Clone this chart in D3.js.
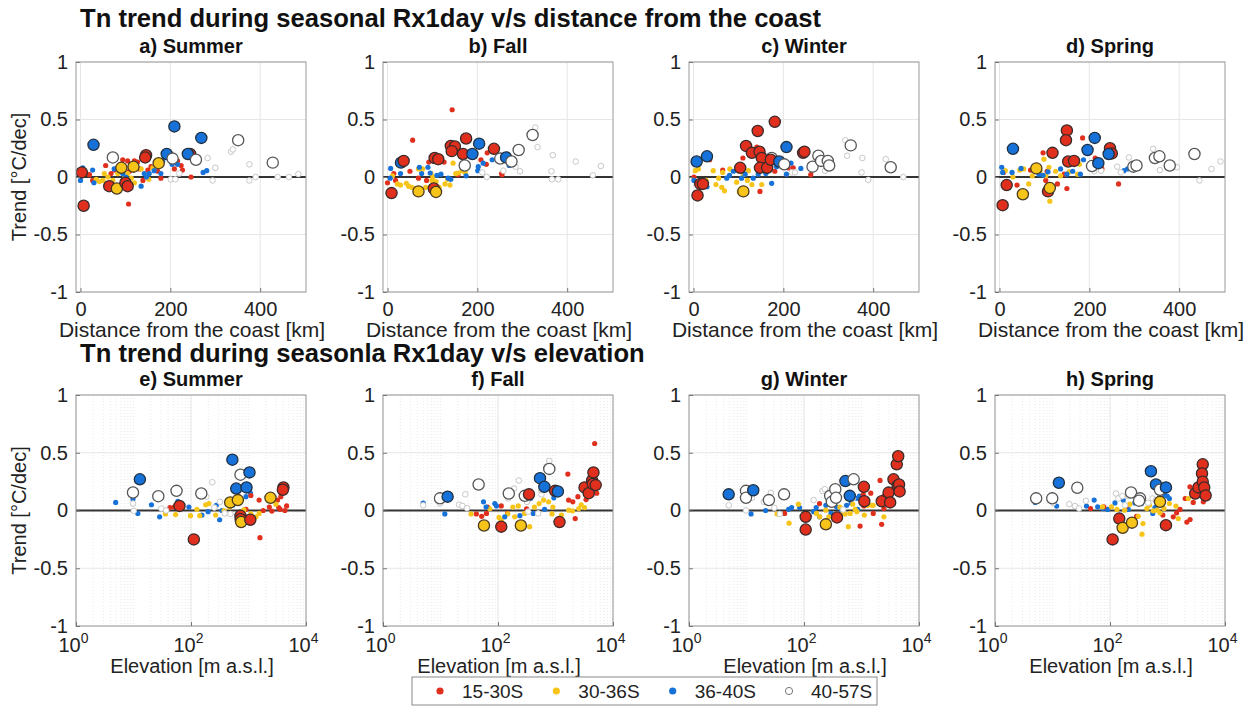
<!DOCTYPE html>
<html>
<head>
<meta charset="utf-8">
<script src="https://cdn.jsdelivr.net/npm/d3@7"></script>
<style>
  html, body { margin: 0; padding: 0; background: #fff; }
  svg { display: block; font-family: "Liberation Sans", Arial, sans-serif; }
</style>
</head>
<body>
<svg id="fig" width="1252" height="708"></svg>
<script>
// Latitude bands (colour groups) and seasons
const regions = ["15-30S", "30-36S", "36-40S", "40-57S"];
const seasons = ["Summer", "Fall", "Winter", "Spring"];
const distTicks = [0, 200, 400];
const elevTicks = [1, 100, 10000];
const trendTicks = [-1, -0.5, 0, 0.5, 1];

// Each station: [x, trend (°C/dec), region index, significant (1 = large marker)]
// Distance from the coast [km]
const summerDist = [
  [13,0.03,0,0],[20,0.02,0,0],[27,-0.03,0,0],[56,0.10,0,0],[68,0.03,0,0],[76,0.06,0,0],[90,0.09,0,0],[94,0.15,0,0],
  [105,0.14,0,0],[109,0.05,0,0],[120,0.14,0,0],[107,-0.235,0,0],[127,0.13,0,0],[131,0.07,0,0],[139,-0.03,0,0],[150,0.06,0,0],
  [157,0.09,0,0],[172,0.05,0,0],[176,0.14,0,0],[179,-0.01,0,0],[209,0.07,0,0],[216,0.14,0,0],[224,0.10,0,0],[227,0.06,0,0],[246,0.0,0,0],
  [35,-0.02,1,0],[42,-0.04,1,0],[50,-0.03,1,0],[53,0.03,1,0],[61,0.0,1,0],[72,-0.03,1,0],[83,0.03,1,0],[98,-0.01,1,0],
  [105,0.03,1,0],[113,-0.01,1,0],[120,-0.05,1,0],[135,0.07,1,0],[152,-0.02,1,0],[161,0.08,1,0],
  [0,-0.03,2,0],[5,0.08,2,0],[27,0.06,2,0],[30,-0.05,2,0],[75,0.07,2,0],[94,0.03,2,0],[101,0.0,2,0],[135,-0.08,2,0],
  [142,0.03,2,0],[147,0.0,2,0],[153,0.03,2,0],[164,0.055,2,0],[183,0.14,2,0],[179,0.03,2,0],[204,0.11,2,0],[216,0.11,2,0],
  [273,0.04,2,0],[281,0.055,2,0],
  [201,-0.02,3,0],[211,-0.02,3,0],[220,0.03,3,0],[283,0.165,3,0],[300,0.08,3,0],[294,-0.03,3,0],[335,0.22,3,0],[339,0.24,3,0],
  [376,-0.03,3,0],[376,0.11,3,0],[390,0.0,3,0],[439,0.0,3,0],[464,0.0,3,0],[485,0.025,3,0],
  [3,0.04,0,1],[7,-0.25,0,1],[29,0.28,2,1],[72,0.17,3,1],[64,-0.08,0,1],[81,-0.10,1,1],[91,0.08,1,1],[100,-0.05,0,1],
  [105,-0.08,0,1],[118,0.09,1,1],[146,0.19,0,1],[144,0.17,0,1],[174,0.12,1,1],[192,0.20,2,1],[205,0.16,3,1],[209,0.44,2,1],
  [244,0.20,0,1],[239,0.20,2,1],[257,0.15,3,1],[269,0.34,2,1],[351,0.32,3,1],[428,0.125,3,1]
];
const fallDist = [
  [0,-0.05,0,0],[14,0.03,0,0],[18,-0.03,0,0],[56,0.32,0,0],[50,0.05,0,0],[69,-0.01,0,0],[87,-0.03,0,0],[92,0.13,0,0],
  [126,0.13,0,0],[144,0.585,0,0],[157,0.02,0,0],[208,0.15,0,0],[220,0.11,0,0],[222,0.21,0,0],[254,0.03,0,0],[255,0.02,0,0],
  [11,0.01,1,0],[22,-0.06,1,0],[29,-0.07,1,0],[42,-0.055,1,0],[47,-0.08,1,0],[54,-0.09,1,0],[61,-0.10,1,0],[69,0.07,1,0],
  [78,0.07,1,0],[85,-0.09,1,0],[97,0.03,1,0],[99,-0.03,1,0],[101,0.0,1,0],[108,-0.04,1,0],[115,-0.09,1,0],[128,-0.06,1,0],
  [134,-0.02,1,0],[139,-0.07,1,0],[146,0.12,1,0],[152,0.03,1,0],[157,0.035,1,0],[166,0.055,1,0],[173,0.04,1,0],
  [7,0.075,2,0],[6,-0.01,2,0],[29,0.03,2,0],[71,0.085,2,0],[76,0.03,2,0],[90,0.085,2,0],[95,0.035,2,0],[110,0.015,2,0],
  [119,0.025,2,0],[135,-0.01,2,0],[141,-0.02,2,0],[175,0.01,2,0],[201,0.055,2,0],[202,0.09,2,0],[213,0.12,2,0],[233,0.15,2,0],[271,0.10,2,0],
  [211,0.04,3,0],[221,0.0,3,0],[258,0.055,3,0],[285,0.09,3,0],[295,0.05,3,0],[329,0.43,3,0],[334,0.26,3,0],[365,0.05,3,0],
  [368,0.19,3,0],[366,-0.02,3,0],[380,-0.02,3,0],[419,0.135,3,0],[457,0.015,3,0],[475,0.095,3,0],
  [9,-0.14,0,1],[30,0.125,2,1],[36,0.14,0,1],[105,0.165,0,1],[113,0.155,0,1],[103,-0.10,0,1],[69,-0.125,1,1],[108,-0.13,1,1],
  [141,0.27,0,1],[150,0.265,0,1],[143,0.225,0,1],[168,0.20,0,1],[175,0.335,0,1],[172,0.10,3,1],[189,0.20,2,1],[204,0.29,2,1],
  [237,0.245,0,1],[251,0.16,3,1],[264,0.17,2,1],[276,0.135,3,1],[292,0.235,3,1],[323,0.365,3,1]
];
const winterDist = [
  [1,0.0,0,0],[36,0.15,0,0],[65,0.06,0,0],[110,0.165,0,0],[141,0.26,0,0],[148,-0.125,0,0],[181,0.05,0,0],[211,0.08,0,0],
  [222,0.08,0,0],[261,0.02,0,0],
  [4,0.055,1,0],[11,0.07,1,0],[28,-0.03,1,0],[44,0.055,1,0],[50,-0.065,1,0],[56,-0.01,1,0],[63,-0.09,1,0],[65,0.04,1,0],
  [69,-0.12,1,0],[81,0.07,1,0],[96,-0.045,1,0],[102,-0.13,1,0],[111,0.02,1,0],[120,-0.03,1,0],[122,0.055,1,0],[130,-0.065,1,0],[152,-0.065,1,0],
  [1,-0.03,2,0],[30,-0.085,2,0],[74,-0.01,2,0],[80,0.015,2,0],[89,0.05,2,0],[107,-0.01,2,0],[115,0.025,2,0],[133,-0.01,2,0],
  [144,0.025,2,0],[161,0.03,2,0],[174,-0.055,2,0],[185,0.09,2,0],[207,0.025,2,0],[217,0.12,2,0],[239,0.075,2,0],
  [219,0.04,3,0],[226,0.04,3,0],[293,0.055,3,0],[338,0.32,3,0],[342,0.185,3,0],[376,0.165,3,0],[374,0.04,3,0],[389,-0.025,3,0],
  [428,0.155,3,0],[467,0.0,3,0],
  [7,0.135,2,1],[30,0.18,2,1],[9,-0.16,0,1],[15,-0.06,0,1],[21,-0.06,0,1],[104,0.08,0,1],[111,-0.125,1,1],[117,0.27,0,1],
  [130,0.21,0,1],[143,0.40,0,1],[147,0.22,0,1],[152,0.165,0,1],[148,0.08,0,1],[164,0.08,0,1],[181,0.48,0,1],[174,0.165,3,1],
  [172,0.15,0,1],[191,0.135,2,1],[202,0.11,3,1],[207,0.26,2,1],[244,0.21,0,1],[247,0.22,0,1],[265,0.09,3,1],[278,0.185,3,1],
  [284,0.14,3,1],[299,0.14,3,1],[302,0.10,3,1],[350,0.275,3,1],[439,0.085,3,1]
];
const springDist = [
  [9,0.04,0,0],[39,-0.07,0,0],[69,0.06,0,0],[97,0.21,0,0],[106,0.05,0,0],[129,-0.06,0,0],[144,0.025,0,0],[150,-0.10,0,0],
  [185,0.34,0,0],[213,0.165,0,0],[228,0.07,0,0],[265,-0.06,0,0],[103,-0.03,0,0],
  [13,0.055,1,0],[30,0.0,1,0],[45,0.06,1,0],[54,0.07,1,0],[65,-0.06,1,0],[73,0.01,1,0],[90,0.05,1,0],[99,0.155,1,0],
  [103,0.01,1,0],[110,0.085,1,0],[112,-0.21,1,0],[125,0.05,1,0],[136,0.01,1,0],[155,0.045,1,0],[174,0.025,1,0],[178,0.11,1,0],
  [5,0.085,2,0],[7,0.04,2,0],[28,0.04,2,0],[48,0.075,2,0],[88,0.025,2,0],[97,0.015,2,0],[108,0.045,2,0],[136,0.07,2,0],
  [150,0.025,2,0],[163,0.05,2,0],[180,0.025,2,0],[187,0.15,2,0],[277,0.055,2,0],[285,0.07,2,0],
  [211,0.05,3,0],[226,0.055,3,0],[262,0.09,3,0],[270,0.04,3,0],[288,0.17,3,0],[342,0.245,3,0],[357,0.06,3,0],[395,0.085,3,0],
  [445,-0.03,3,0],[472,0.07,3,0],[492,0.135,3,0],
  [7,-0.245,0,1],[16,-0.07,0,1],[30,0.245,2,1],[52,-0.15,1,1],[82,0.075,1,1],[108,-0.125,0,1],[112,-0.095,1,1],[118,0.21,0,1],
  [150,0.405,0,1],[148,0.32,0,1],[153,0.135,0,1],[166,0.14,0,1],[196,0.235,2,1],[206,0.095,3,1],[212,0.34,2,1],[220,0.12,2,1],
  [246,0.25,0,1],[250,0.205,0,1],[243,0.20,2,1],[298,0.09,3,1],[305,0.10,3,1],[346,0.165,3,1],[356,0.18,3,1],[379,0.10,3,1],[434,0.20,3,1]
];

// Elevation [m a.s.l.]
const summerElev = [
  [4.9,0.07,2,0],[9.8,0.10,2,0],[11.9,-0.025,2,0],[20.5,0.05,2,0],[28.5,-0.055,2,0],[59,0.08,2,0],[92,0.03,2,0],[155,-0.04,2,0],
  [198,-0.01,2,0],[275,0.045,2,0],[315,-0.08,2,0],[345,0.0,2,0],[530,0.045,2,0],[905,0.12,2,0],[1080,0.15,2,0],
  [43,0.025,0,0],[51,0.03,0,0],[905,0.01,0,0],[1100,0.13,0,0],[1530,0.09,0,0],[1580,-0.235,0,0],[1800,0.0,0,0],[2300,0.03,0,0],
  [2550,-0.005,0,0],[3200,0.09,0,0],[3350,0.025,0,0],[3650,0.12,0,0],[4300,0.0,0,0],[4600,0.04,0,0],[3550,0.01,0,0],
  [36,-0.03,1,0],[54,-0.035,1,0],[98,-0.045,1,0],[127,0.01,1,0],[142,-0.045,1,0],[180,0.05,1,0],[205,0.06,1,0],[268,-0.04,1,0],
  [376,0.0,1,0],[470,0.03,1,0],[830,0.005,1,0],[1100,-0.03,1,0],[1350,-0.055,1,0],[1530,-0.025,1,0],[2240,0.09,1,0],[3000,0.055,1,0],
  [9.8,0.06,3,0],[10.1,-0.003,3,0],[30.5,0.017,3,0],[37,0.0,3,0],[185,0.12,3,0],[235,0.245,3,0],[255,0.025,3,0],[320,0.075,3,0],
  [385,-0.025,3,0],[485,-0.03,3,0],
  [9.8,0.156,3,1],[12.9,0.27,2,1],[27,0.124,3,1],[56,0.17,3,1],[63,0.04,0,1],[112,-0.25,0,1],[151,0.147,3,1],[524,0.44,2,1],
  [480,0.07,1,1],[612,0.19,2,1],[653,0.09,1,1],[725,0.31,3,1],[725,-0.046,0,1],[730,-0.075,0,1],[745,-0.10,1,1],[923,0.20,2,1],
  [1040,0.33,2,1],[1075,-0.08,0,1],[2410,0.11,1,1],[4050,0.20,0,1],[3960,0.18,0,1]
];
const fallElev = [
  [42,-0.03,0,0],[52,-0.05,0,0],[63,-0.025,0,0],[66,0.03,0,0],[114,0.04,0,0],[146,-0.025,0,0],[314,0.015,0,0],[337,0.095,0,0],
  [1640,0.315,0,0],[1690,0.09,0,0],[2000,0.075,0,0],[2200,-0.07,0,0],[2450,0.12,0,0],[3400,0.095,0,0],[3780,0.14,0,0],
  [4800,0.58,0,0],[5200,0.15,0,0],
  [34,-0.03,1,0],[72,0.015,1,0],[104,-0.06,1,0],[114,-0.085,1,0],[148,-0.03,1,0],[181,0.03,1,0],[195,-0.055,1,0],[225,0.04,1,0],
  [290,-0.025,1,0],[355,-0.14,1,0],[430,0.03,1,0],[520,0.06,1,0],[620,0.09,1,0],[760,0.075,1,0],[870,-0.03,1,0],[900,0.03,1,0],
  [1270,-0.04,1,0],[1700,0.003,1,0],[1980,-0.003,1,0],[2540,0.017,1,0],[2800,0.05,1,0],[3200,0.025,1,0],
  [5,0.065,2,0],[11.9,-0.03,2,0],[56,0.075,2,0],[62,0.03,2,0],[88,0.06,2,0],[94,0.04,2,0],[131,-0.055,2,0],[240,-0.045,2,0],
  [370,0.105,2,0],[410,-0.025,2,0],[645,0.01,2,0],[935,0.11,2,0],
  [5,0.045,3,0],[9.8,0.06,3,0],[21,0.05,3,0],[24,0.04,3,0],[29,0.02,3,0],[27,0.14,3,0],[150,0.105,3,0],[190,0.19,3,0],
  [230,0.26,3,0],[320,0.075,3,0],[570,0.14,3,0],[570,0.175,3,0],[700,0.38,3,0],[780,0.43,3,0],[500,-0.025,3,0],[335,-0.01,3,0],
  [9.8,0.105,3,1],[13.3,0.12,2,1],[46,0.225,3,1],[57,-0.13,1,1],[114,-0.14,0,1],[154,0.147,3,1],[293,0.127,3,1],[346,0.14,0,1],
  [250,-0.13,1,1],[537,0.28,2,1],[640,0.205,2,1],[780,0.36,3,1],[985,0.17,0,1],[1100,0.165,2,1],[1175,-0.10,0,1],[3200,0.20,0,1],
  [3780,0.15,0,1],[4330,0.26,0,1],[4570,0.33,0,1],[4450,0.23,0,1],[5000,0.22,0,1]
];
const winterElev = [
  [12,-0.03,2,0],[21.5,0.0,2,0],[38,-0.025,2,0],[54,0.01,2,0],[61,0.025,2,0],[84,0.025,2,0],[147,-0.01,2,0],[163,0.025,2,0],
  [186,-0.055,2,0],[240,0.045,2,0],[295,-0.025,2,0],[370,0.03,2,0],[450,0.003,2,0],[550,0.045,2,0],[660,0.065,2,0],[830,0.105,2,0],
  [860,0.01,2,0],[920,0.125,2,0],
  [46,-0.025,0,0],[186,0.06,0,0],[945,-0.135,0,0],[1070,0.14,0,0],[1100,0.04,0,0],[1450,0.15,0,0],[1600,-0.025,0,0],[2100,0.26,0,0],
  [2240,-0.12,0,0],[2460,0.125,0,0],[2460,0.017,0,0],
  [34,-0.03,1,0],[55,-0.11,1,0],[80,0.055,1,0],[165,-0.025,1,0],[188,-0.055,1,0],[240,0.003,1,0],[270,-0.055,1,0],[420,0.03,1,0],
  [475,-0.02,1,0],[520,-0.03,1,0],[590,-0.14,1,0],[635,-0.025,1,0],[705,0.055,1,0],[775,0.01,1,0],[830,-0.01,1,0],[1120,-0.04,1,0],
  [1280,0.045,1,0],[1520,0.045,1,0],[1600,0.045,1,0],[2450,-0.055,1,0],
  [4.9,0.045,3,0],[9.8,0.0,3,0],[12.5,0.11,3,0],[20,0.075,3,0],[26.5,0.153,3,0],[30.5,0.023,3,0],[38,-0.03,3,0],[147,0.09,3,0],
  [210,0.17,3,0],[230,0.185,3,0],[480,0.008,3,0],[570,0.14,3,0],[710,0.105,3,0],
  [4.9,0.14,2,1],[9.8,0.17,3,1],[9.8,0.11,3,1],[13.1,0.175,2,1],[24.5,0.09,3,1],[45,0.14,3,1],[107,-0.055,0,1],[107,-0.165,0,1],
  [240,-0.12,1,1],[285,0.127,3,1],[305,0.075,3,1],[350,0.185,3,1],[360,0.11,3,1],[375,-0.06,0,1],[525,0.255,2,1],[730,0.27,3,1],
  [625,0.127,2,1],[1100,0.205,0,1],[1120,0.08,0,1],[2250,0.08,0,1],[2960,0.155,0,1],[3150,0.07,0,1],[3600,0.27,0,1],[4100,0.40,0,1],
  [4350,0.47,0,1],[4250,0.215,0,1],[4500,0.225,0,1],[4600,0.165,0,1]
];
const springElev = [
  [5,0.07,2,0],[11.8,0.038,2,0],[39,0.038,2,0],[53,0.09,2,0],[61,0.032,2,0],[76,0.017,2,0],[91,0.009,2,0],[122,0.066,2,0],
  [170,0.09,2,0],[208,0.009,2,0],[270,0.066,2,0],[355,0.06,2,0],[555,-0.026,2,0],[605,0.026,2,0],[900,0.133,2,0],[990,0.124,2,0],[1080,0.104,2,0],
  [46,0.017,0,0],[78,0.032,0,0],[190,0.038,0,0],[290,-0.05,0,0],[830,-0.04,0,0],[1260,-0.055,0,0],[1440,-0.02,0,0],[1650,0.009,0,0],
  [2030,0.104,0,0],[2170,-0.10,0,0],[2470,-0.078,0,0],[2800,0.07,0,0],[2980,0.12,0,0],[3650,0.19,0,0],[2460,0.205,0,0],[4200,0.075,0,0],
  [74,0.032,1,0],[106,0.032,1,0],[132,0.009,1,0],[180,0.003,1,0],[220,0.055,1,0],[310,-0.05,1,0],[360,-0.205,1,0],[375,-0.113,1,0],
  [437,0.017,1,0],[485,0.046,1,0],[565,-0.003,1,0],[660,0.003,1,0],[740,-0.02,1,0],[870,0.017,1,0],[1080,0.06,1,0],[1400,0.038,1,0],
  [1540,-0.07,1,0],[2300,0.104,1,0],
  [10.3,0.066,3,0],[19.6,0.055,3,0],[24.6,0.038,3,0],[29,0.017,3,0],[38,0.084,3,0],[127,0.147,3,0],[140,0.104,3,0],[164,0.124,3,0],
  [182,0.046,3,0],[208,0.124,3,0],[460,0.066,3,0],[550,0.104,3,0],[630,0.09,3,0],[710,0.153,3,0],[740,0.234,3,0],
  [5.2,0.105,3,1],[9.9,0.105,3,1],[12.9,0.24,2,1],[27,0.197,3,1],[145,-0.07,0,1],[111,-0.25,0,1],[166,-0.15,1,1],[241,-0.105,1,1],
  [232,0.156,3,1],[333,0.105,3,1],[320,0.085,3,1],[515,0.34,2,1],[630,0.225,2,1],[740,0.18,3,1],[740,0.075,1,1],[940,0.20,2,1],
  [940,-0.127,0,1],[3030,0.147,0,1],[3450,0.20,0,1],[4100,0.40,0,1],[3980,0.32,0,1],[4100,0.25,0,1],[4350,0.20,0,1],[4600,0.13,0,1]
];

const distData = [summerDist, fallDist, winterDist, springDist];
const elevData = [summerElev, fallElev, winterElev, springElev];
const letters = ["a", "b", "c", "d", "e", "f", "g", "h"];

// Marker styling per latitude band
const fillColors = ["#e0301d", "#f7c51a", "#1672d8", "#ffffff"];
const bigStroke = ["#3a2a2a", "#4a3a20", "#203040", "#555555"];
const smallStroke = [null, null, null, "#c8c8c8"];

const svg = d3.select("#fig");
const font = '"Liberation Sans", Arial, sans-serif';
const hyphen = s => String(s).replace("\u2212", "-");

// Panel geometry
const panelLefts = [76, 383, 689, 995];
const panelW = 230;
const rows = [
  { top: 62, bottom: 292, title: "Tn trend during seasonal Rx1day v/s distance from the coast", titleY: 27 },
  { top: 395, bottom: 626, title: "Tn trend during seasonla Rx1day v/s elevation", titleY: 362 }
];

rows.forEach(r => {
  svg.append("text").attr("x", 80).attr("y", r.titleY)
    .attr("font-size", 25.6).attr("font-weight", "bold").attr("fill", "#111")
    .text(r.title);
});

function drawPanel(rowIdx, col) {
  const r = rows[rowIdx];
  const x0 = panelLefts[col], x1 = x0 + panelW;
  const isLog = rowIdx === 1;
  const data = isLog ? elevData[col] : distData[col];
  const x = isLog
    ? d3.scaleLog().domain([1, 10000]).range([x0, x1])
    : d3.scaleLinear().domain([-10, 502]).range([x0, x1]);
  const y = d3.scaleLinear().domain([-1, 1]).range([r.bottom, r.top]);
  const g = svg.append("g");
  const clipId = "clip" + rowIdx + col;
  g.append("clipPath").attr("id", clipId).append("rect")
    .attr("x", x0).attr("y", r.top).attr("width", panelW).attr("height", r.bottom - r.top);

  // minor log grid
  if (isLog) {
    const minors = [];
    for (let e = 0; e < 4; e++) for (let m = 2; m <= 10; m++) minors.push(m * Math.pow(10, e));
    g.selectAll(".minor").data(minors.filter(v => v < 10000)).join("line")
      .attr("x1", d => x(d)).attr("x2", d => x(d)).attr("y1", r.top).attr("y2", r.bottom)
      .attr("stroke", "#e4e4e4").attr("stroke-width", 0.8).attr("stroke-dasharray", "1,2");
  }
  // major grid
  const xt = isLog ? elevTicks : distTicks;
  g.selectAll(".vgrid").data(xt).join("line")
    .attr("x1", d => x(d)).attr("x2", d => x(d)).attr("y1", r.top).attr("y2", r.bottom)
    .attr("stroke", "#e6e6e6").attr("stroke-width", 1);
  g.selectAll(".hgrid").data(trendTicks).join("line")
    .attr("x1", x0).attr("x2", x1).attr("y1", d => y(d)).attr("y2", d => y(d))
    .attr("stroke", "#e6e6e6").attr("stroke-width", 1);

  // zero reference line
  g.append("line").attr("x1", x0).attr("x2", x1).attr("y1", y(0)).attr("y2", y(0))
    .attr("stroke", "#333").attr("stroke-width", 2);

  // points: small first, significant on top
  const pts = g.append("g").attr("clip-path", `url(#${clipId})`);
  const ordered = data.filter(d => !d[3]).concat(data.filter(d => d[3]));
  pts.selectAll("circle").data(ordered).join("circle")
    .attr("cx", d => x(d[0])).attr("cy", d => y(d[1]))
    .attr("r", d => d[3] ? 5.6 : (d[2] === 3 ? 2.8 : 2.6))
    .attr("fill", d => fillColors[d[2]])
    .attr("stroke", d => d[3] ? bigStroke[d[2]] : smallStroke[d[2]])
    .attr("stroke-width", d => d[3] ? 1.3 : (d[2] === 3 ? 1 : 0));

  // axes box
  g.append("rect").attr("x", x0).attr("y", r.top).attr("width", panelW).attr("height", r.bottom - r.top)
    .attr("fill", "none").attr("stroke", "#9a9a9a").attr("stroke-width", 1);

  // axes ticks and labels via d3 axes
  const yAxis = d3.axisLeft(y).tickValues(trendTicks).tickSizeInner(-4).tickSizeOuter(0)
    .tickPadding(8).tickFormat(d => d === 0 ? "0" : hyphen(d3.format("")(d)));
  const ya = svg.append("g").attr("transform", `translate(${x0},0)`).call(yAxis);
  ya.select(".domain").remove();
  ya.selectAll("line").attr("stroke", "#777");
  ya.selectAll("text").attr("font-size", 20).attr("font-family", font).attr("fill", "#222");

  const xAxis = d3.axisBottom(x).tickValues(xt).tickSizeInner(-4).tickSizeOuter(0).tickPadding(10)
    .tickFormat(d => isLog ? "" : d);
  const xa = svg.append("g").attr("transform", `translate(0,${r.bottom})`).call(xAxis);
  xa.select(".domain").remove();
  xa.selectAll("line").attr("stroke", "#777");
  xa.selectAll("text").attr("font-size", 20).attr("font-family", font).attr("fill", "#222");
  if (isLog) {
    xa.selectAll(".tick text").each(function(d) {
      const t = d3.select(this).attr("dy", null).attr("y", 26).attr("dx", -3);
      t.append("tspan").text("10");
      t.append("tspan").attr("font-size", 14).attr("dy", -9).text(Math.round(Math.log10(d)));
    });
  }

  // panel title
  svg.append("text").attr("x", (x0 + x1) / 2).attr("y", r.top - 9)
    .attr("text-anchor", "middle").attr("font-size", 20).attr("font-weight", "bold").attr("fill", "#111")
    .text(letters[rowIdx * 4 + col] + ") " + seasons[col]);

  // x-axis label
  svg.append("text").attr("x", (x0 + x1) / 2 + 1).attr("y", r.bottom + (isLog ? 47 : 45))
    .attr("text-anchor", "middle").attr("font-size", isLog ? 20 : 21).attr("fill", "#222")
    .text(isLog ? "Elevation [m a.s.l.]" : "Distance from the coast [km]");

  // y-axis label on left column
  if (col === 0) {
    const cy = (r.top + r.bottom) / 2;
    svg.append("text").attr("transform", `translate(26,${cy}) rotate(-90)`)
      .attr("text-anchor", "middle").attr("font-size", 20).attr("fill", "#222")
      .text("Trend [°C/dec]");
  }
}

for (let ri = 0; ri < 2; ri++) for (let c = 0; c < 4; c++) drawPanel(ri, c);

// Legend
const legX = 412, legY = 677, legW = 465, legH = 28;
const lg = svg.append("g");
lg.append("rect").attr("x", legX).attr("y", legY).attr("width", legW).attr("height", legH)
  .attr("fill", "#fff").attr("stroke", "#8a8a8a").attr("stroke-width", 1);
const legItemX = d3.scalePoint().domain(regions).range([legX + 28, legX + 377]);
const items = lg.selectAll(".item").data(regions).join("g")
  .attr("transform", d => `translate(${legItemX(d)},${legY + legH / 2})`);
items.append("circle").attr("r", 3.6)
  .attr("fill", (d, i) => fillColors[i])
  .attr("stroke", (d, i) => i === 3 ? "#777" : "none").attr("stroke-width", 1);
items.append("text").attr("x", 22).attr("y", 6.5).attr("font-size", 19).attr("fill", "#222")
  .text(d => d);
</script>
</body>
</html>
